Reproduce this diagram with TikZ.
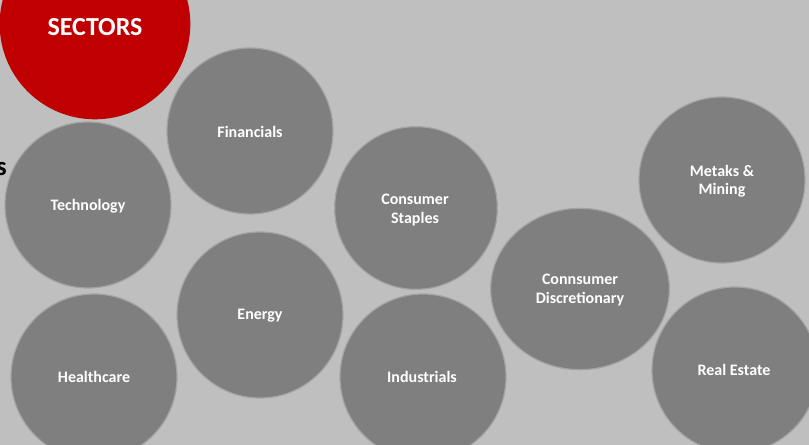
\documentclass[tikz,border=0pt]{standalone}
\usepackage{fontspec}
\setmainfont{Carlito}
\usetikzlibrary{shapes.geometric}
\definecolor{bgc}{HTML}{BFBFBF}
\definecolor{bubc}{HTML}{7F7F7F}
\definecolor{rimc}{HTML}{A3A3A3}
\definecolor{redc}{HTML}{C00000}
\tikzset{
  bubble/.style={circle, fill=bubc, draw=rimc, line width=0.9pt, inner sep=0pt,
    minimum size=124.5pt},
  ovalbubble/.style={bubble, ellipse, minimum width=134pt, minimum height=121pt},
  redbubble/.style={circle, fill=redc, draw=none, inner sep=0pt, minimum size=143pt},
  bubtext/.style={text=white, inner sep=0pt, align=center,
    font=\bfseries\fontsize{12}{13.6}\selectfont},
  titletext/.style={text=white, inner sep=0pt, font=\bfseries\fontsize{19.5}{22}\selectfont},
}
\begin{document}
\begin{tikzpicture}[x=0.75pt, y=-0.75pt]
\useasboundingbox (0,0) rectangle (809,445);
\fill[bgc] (0,0) rectangle (809,445);
\clip (0,0) rectangle (809,445);
\node[anchor=base east, inner sep=0pt, font=\bfseries\fontsize{20}{24}\selectfont] (cut) at (7,176) {s};
\node[redbubble] (sectors) at (95,24) {};
\node[titletext] (sectorslabel) at (95,27) {SECTORS};
\node[bubble] (fin) at (250,131) {};
\node[bubble] (tech) at (88,205) {};
\node[bubble] (health) at (94,377) {};
\node[bubble] (energy) at (260,315) {};
\node[bubble, minimum size=122pt] (staples) at (416,208) {};
\node[bubble] (indus) at (423,377) {};
\node[ovalbubble] (disc) at (580,289) {};
\node[bubble] (metals) at (722,180) {};
\node[bubble] (realestate) at (735,370) {};
\node[bubtext] (finl) at (250,132) {Financials};
\node[bubtext] (techl) at (88,206) {Technology};
\node[bubtext] (healthl) at (94,377) {Healthcare};
\node[bubtext] (energyl) at (260,316) {Energy};
\node[bubtext] (staplesl) at (415,210) {Consumer\\Staples};
\node[bubtext] (indusl) at (422,377) {Industrials};
\node[bubtext] (discl) at (580,290) {Connsumer\\Discretionary};
\node[bubtext] (metalsl) at (722,181) {Metaks \&\\Mining};
\node[bubtext] (realestatel) at (734,370) {Real Estate};
\end{tikzpicture}
\end{document}
